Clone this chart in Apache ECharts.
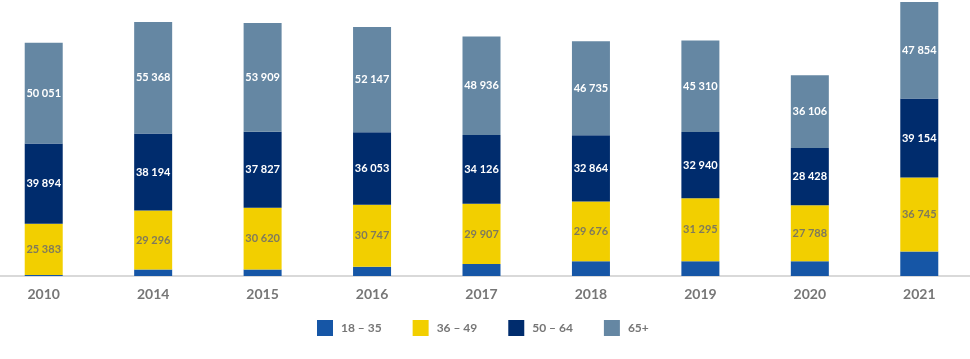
<!DOCTYPE html>
<html>
<head>
<meta charset="utf-8">
<script src="https://cdn.jsdelivr.net/npm/echarts@6/dist/echarts.min.js"></script>
<style>html,body{margin:0;padding:0;background:#fff;overflow:hidden;width:970px;height:359px;position:relative;}#c{position:absolute;left:-11px;top:0;width:985px;height:359px;}</style>
</head>
<body>
<div id="c"></div>
<script>
const categories = ['2010','2014','2015','2016','2017','2018','2019','2020','2021'];
const seriesNames = ['18 – 35','36 – 49','50 – 64','65+'];
const age18_35 = [500, 3200, 3200, 4600, 5900, 7300, 7300, 7300, 12200];
const age36_49 = [25383, 29296, 30620, 30747, 29907, 29676, 31295, 27788, 36745];
const age50_64 = [39894, 38194, 37827, 36053, 34126, 32864, 32940, 28428, 39154];
const age65p   = [50051, 55368, 53909, 52147, 48936, 46735, 45310, 36106, 47854];

const colors = ['#1656a6', '#f2cf00', '#002c6d', '#6587a3'];
const labelColors = [null, '#7f7a5c', '#ffffff', '#ffffff'];
const fmt = v => String(v).replace(/\B(?=(\d{3})+(?!\d))/g, ' ');
const FONT = 'Lato, "Open Sans", sans-serif';

const dataSets = [age18_35, age36_49, age50_64, age65p];
const series = dataSets.map((d, i) => ({
  name: seriesNames[i],
  type: 'bar',
  stack: 'total',
  barWidth: 38,
  data: d,
  itemStyle: { color: colors[i] },
  label: i === 0 ? { show: false } : {
    show: true,
    position: 'inside',
    color: labelColors[i],
    fontFamily: FONT,
    fontWeight: 'bold',
    fontSize: 11,
    formatter: p => fmt(p.value)
  }
}));

const chart = echarts.init(document.getElementById('c'), null, { renderer: 'canvas' });
chart.setOption({
  animation: false,
  backgroundColor: '#ffffff',
  grid: { left: 0, right: 0, top: 0, bottom: 83, containLabel: false },
  legend: {
    data: seriesNames,
    left: 323,
    top: 315,
    itemWidth: 16,
    itemHeight: 16,
    itemGap: 31,
    icon: 'rect',
    textStyle: { color: '#767676', fontSize: 12, fontFamily: FONT, fontWeight: 'bold', padding: [0, 0, 0, 3] }
  },
  xAxis: {
    type: 'category',
    data: categories,
    axisLine: { show: true, lineStyle: { color: '#d9d9d9', width: 2 } },
    axisTick: { show: false },
    axisLabel: { color: '#767676', fontSize: 14, fontWeight: 'bold', fontFamily: FONT, margin: 11 }
  },
  yAxis: {
    type: 'value',
    min: 0,
    max: 137000,
    show: false,
    splitLine: { show: false }
  },
  series: series
});
</script>
</body>
</html>
